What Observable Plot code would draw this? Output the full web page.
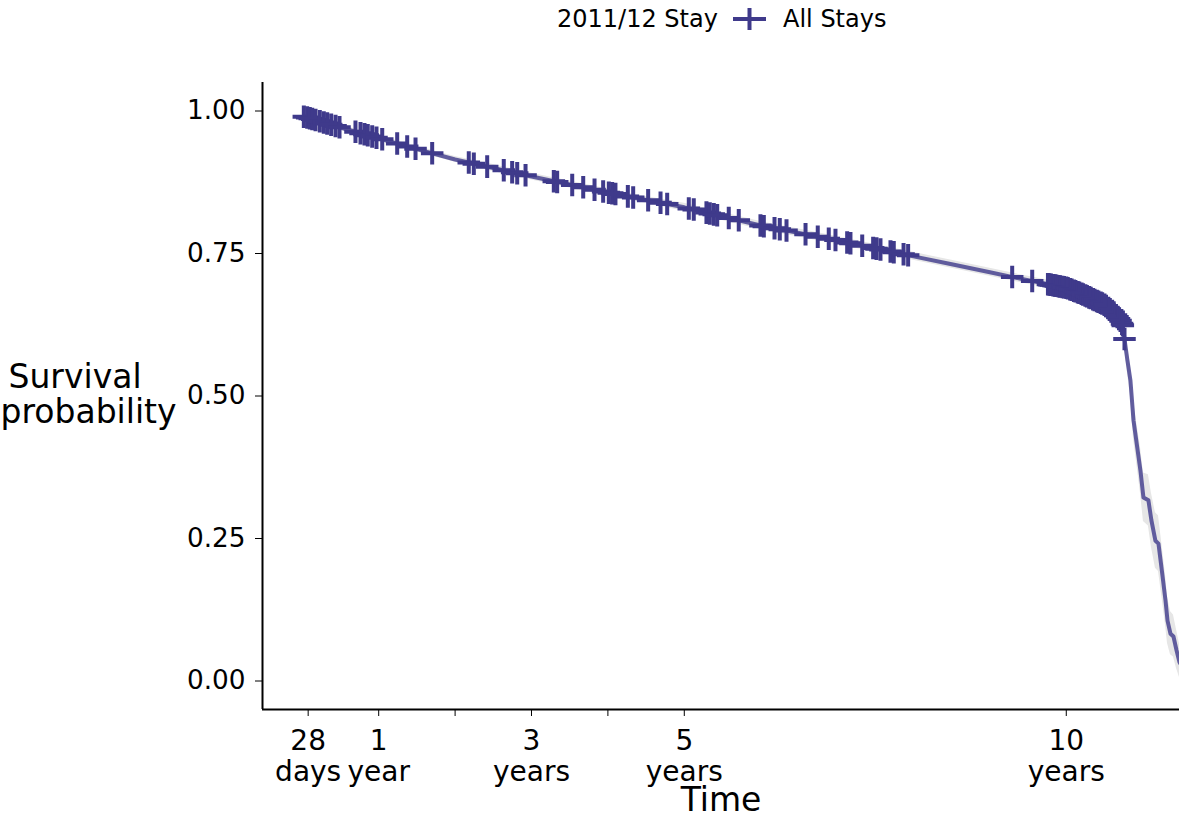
<!DOCTYPE html>
<html><head><meta charset="utf-8">
<script src="https://cdn.jsdelivr.net/npm/d3@7"></script>
<script src="https://cdn.jsdelivr.net/npm/@observablehq/plot@0.6"></script>
<style>
html,body{margin:0;padding:0;background:#fff;overflow:hidden;}
body{width:1179px;height:815px;font-family:"DejaVu Sans",sans-serif;}
#legend{position:relative;height:40px;width:1179px;font-size:24px;color:#000;}
#legend span{position:absolute;top:4px;line-height:30px;white-space:nowrap;}
#legend svg{position:absolute;top:0;}
</style></head><body>
<div id="legend"></div>
<div id="chart"></div>
<script>
// ---- data (time in years) ----
const legendTitle = "2011/12 Stay";
const seriesName = "All Stays";
const seriesColor = "#3f3a8b";

const curveT  = [0.03,0.5,1.0,1.5,2.0,2.5,3.0,3.5,4.0,4.5,5.0,5.5,6.0,6.5,7.0,7.5,8.0,8.5,9.0,9.5,10.0,10.19,10.49,10.61,10.71,10.74,10.762,10.801,10.840,10.880,10.971,11.010,11.075,11.114,11.167,11.207,11.259,11.299,11.325,11.364,11.403,11.443,11.482,11.626];
const curveS  = [0.990,0.971,0.952,0.933,0.915,0.900,0.885,0.871,0.857,0.844,0.831,0.815,0.799,0.786,0.773,0.759,0.745,0.731,0.717,0.703,0.690,0.680,0.661,0.648,0.632,0.624,0.600,0.562,0.527,0.457,0.369,0.322,0.317,0.282,0.246,0.241,0.185,0.141,0.106,0.083,0.078,0.054,0.033,0.000];
const curveLo = [0.986,0.966,0.947,0.928,0.910,0.894,0.879,0.865,0.851,0.838,0.824,0.808,0.792,0.779,0.766,0.752,0.738,0.724,0.710,0.696,0.683,0.673,0.653,0.640,0.623,0.612,0.585,0.540,0.500,0.425,0.330,0.280,0.272,0.235,0.198,0.192,0.140,0.098,0.066,0.046,0.042,0.022,0.006,0.000];
const curveHi = [0.994,0.976,0.957,0.938,0.920,0.906,0.891,0.877,0.863,0.850,0.838,0.822,0.806,0.793,0.780,0.766,0.752,0.738,0.724,0.710,0.697,0.687,0.669,0.656,0.641,0.636,0.615,0.585,0.555,0.490,0.410,0.365,0.362,0.330,0.295,0.290,0.232,0.186,0.148,0.122,0.116,0.090,0.065,0.030];

const censorT = [0.02,0.064,0.098,0.13,0.173,0.229,0.281,0.326,0.378,0.435,0.487,0.696,0.762,0.814,0.857,0.915,0.971,1.046,1.242,1.373,1.482,1.70,2.179,2.245,2.42,2.637,2.747,2.813,2.922,3.292,3.336,3.533,3.677,3.825,3.938,4.012,4.056,4.099,4.261,4.331,4.527,4.689,4.776,5.059,5.124,5.29,5.334,5.386,5.431,5.582,5.713,5.997,6.041,6.181,6.25,6.338,6.587,6.747,6.891,6.979,7.132,7.175,7.329,7.472,7.516,7.568,7.699,7.742,7.87,7.93,9.292,9.554,
  9.76,9.78,9.80,9.83,9.85,9.87,9.90,9.92,9.95,9.97,10.00,10.02,10.05,10.07,10.10,10.12,10.15,10.17,10.20,10.22,10.25,10.27,10.30,10.32,10.35,10.37,10.40,10.42,10.45,10.47,10.50,10.52,10.55,10.57,10.60,10.62,10.65,10.67,10.69,10.71,10.73,10.74,10.762];

const xTickValues = [28/365.25, 1, 2, 3, 4, 5, 10];
const xTickLabels = ["28\ndays", "1\nyear", "", "3\nyears", "", "5\nyears", "10\nyears"];
const yTickValues = [0, 0.25, 0.5, 0.75, 1];
const yTickLabels = ["0.00", "0.25", "0.50", "0.75", "1.00"];
const xTitle = "Time";
const yTitle = ["Survival", "probability"];
const xDomain = [-0.521, 11.482];
const yDomain = [-0.05, 1.05];

// ---- build tables ----
const curve = curveT.map((t, i) => ({t, s: curveS[i], lo: curveLo[i], hi: curveHi[i]}));
function survAt(t) {
  const i = d3.bisectRight(curveT, t);
  if (i <= 0) return curveS[0];
  if (i >= curveT.length) return curveS[curveS.length - 1];
  const t0 = curveT[i - 1], t1 = curveT[i];
  return curveS[i - 1] + (curveS[i] - curveS[i - 1]) * (t - t0) / (t1 - t0);
}
const censor = censorT.map(t => ({t, s: survAt(t)}));
const xLab = new Map(xTickValues.map((v, i) => [v, xTickLabels[i]]));
const yLab = new Map(yTickValues.map((v, i) => [v, yTickLabels[i]]));

// ---- legend ----
const lg = document.getElementById("legend");
lg.innerHTML = `<span style="left:557px">${legendTitle}</span>
<svg width="36" height="40" style="left:731px"><line x1="2" x2="35" y1="19" y2="19" stroke="${seriesColor}" stroke-width="4"/><line x1="18.5" x2="18.5" y1="8" y2="30" stroke="${seriesColor}" stroke-width="4"/></svg>
<span style="left:783px">${seriesName}</span>`;

// ---- chart ----
const chart = Plot.plot({
  width: 1179,
  height: 775,
  marginLeft: 262,
  marginRight: 0,
  marginTop: 42,
  marginBottom: 106,
  style: {fontFamily: "DejaVu Sans", color: "black", background: "white", overflow: "hidden"},
  x: {domain: xDomain},
  y: {domain: yDomain},
  marks: [
    Plot.areaY(curve, {x: "t", y1: "lo", y2: "hi", fill: "#e6e6e6", clip: true}),
    Plot.line(curve, {x: "t", y: "s", stroke: seriesColor, strokeWidth: 4, strokeOpacity: 0.8, clip: true}),
    Plot.dot(censor, {x: "t", y: "s", symbol: "plus", r: 7.3, stroke: seriesColor, strokeWidth: 4}),
    Plot.ruleX([xDomain[0]], {stroke: "black", strokeWidth: 2}),
    Plot.ruleY([yDomain[0]], {stroke: "black", strokeWidth: 2}),
    Plot.axisX({ticks: xTickValues, tickFormat: d => xLab.get(d), fontSize: 28, lineHeight: 1.1, tickSize: 7, tickPadding: 12, label: null}),
    Plot.axisY({ticks: yTickValues, tickFormat: d => yLab.get(d), fontSize: 26.3, tickSize: 7, tickPadding: 10, label: null}),
    Plot.text([xTitle], {frameAnchor: "bottom", dy: 101, fontSize: 33, fill: "black"}),
    Plot.text([yTitle[0]], {frameAnchor: "left", textAnchor: "start", dx: -254, dy: -18.5, fontSize: 33, fill: "black"}),
    Plot.text([yTitle[1]], {frameAnchor: "left", textAnchor: "start", dx: -262, dy: 16.5, fontSize: 33, fill: "black"})
  ]
});
document.getElementById("chart").appendChild(chart);
</script>
</body></html>
